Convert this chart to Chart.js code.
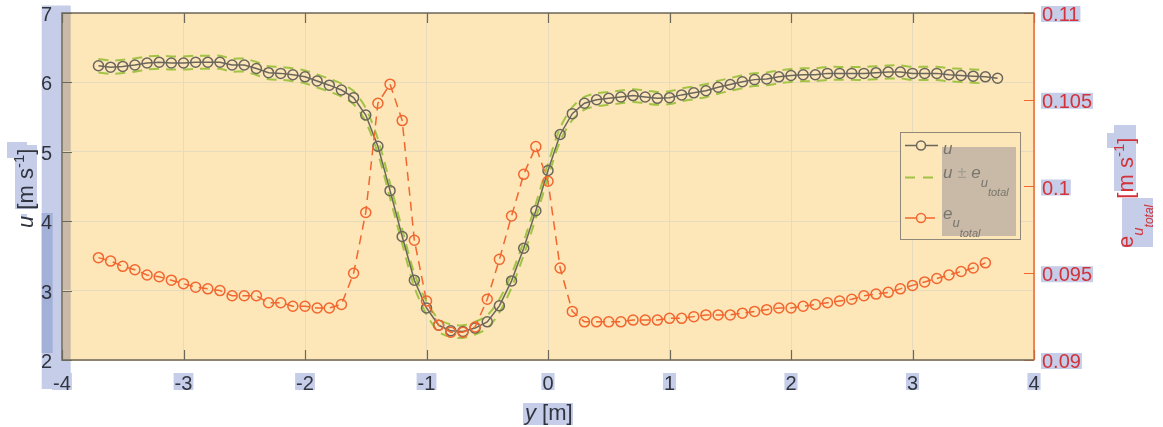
<!DOCTYPE html>
<html>
<head>
<meta charset="utf-8">
<script src="https://cdn.jsdelivr.net/npm/chart.js@4/dist/chart.umd.min.js"></script>
<style>
  html, body { margin: 0; padding: 0; background: #fff; }
  #wrap { width: 1163px; height: 427px; }
</style>
</head>
<body>
<div id="wrap"><canvas id="chart" width="1163" height="427"></canvas></div>
<script>
'use strict';

// lateral position y [m]
let positions=[-3.7,-3.6,-3.5,-3.4,-3.3,-3.2,-3.1,-3.0,-2.9,-2.8,-2.7,-2.6,-2.5,-2.4,-2.3,-2.2,-2.1,-2.0,-1.9,-1.8,
  -1.7,-1.6,-1.5,-1.4,-1.3,-1.2,-1.1,-1.0,-0.9,-0.8,-0.7,-0.6,-0.5,-0.4,-0.3,-0.2,-0.1,0.0,0.1,0.2,
  0.3,0.4,0.5,0.6,0.7,0.8,0.9,1.0,1.1,1.2,1.3,1.4,1.5,1.6,1.7,1.8,1.9,2.0,2.1,2.2,
  2.3,2.4,2.5,2.6,2.7,2.8,2.9,3.0,3.1,3.2,3.3,3.4,3.5,3.6,3.7]

// mean streamwise velocity u [m/s]
let uMean=[6.24,6.22,6.23,6.25,6.28,6.29,6.28,6.28,6.29,6.29,6.29,6.25,6.25,6.20,6.14,6.13,6.11,6.08,6.02,5.96,
  5.89,5.78,5.53,5.08,4.44,3.78,3.15,2.75,2.50,2.42,2.41,2.46,2.55,2.78,3.14,3.61,4.15,4.73,5.25,5.55,
  5.70,5.75,5.77,5.79,5.81,5.79,5.77,5.78,5.82,5.85,5.88,5.93,5.97,6.01,6.04,6.05,6.08,6.10,6.11,6.11,
  6.13,6.13,6.13,6.13,6.14,6.15,6.15,6.13,6.13,6.13,6.11,6.10,6.09,6.08,6.06]

// total uncertainty of u [m/s], no value at the last position
let uError=[0.0959,0.0957,0.0954,0.0952,0.0949,0.0948,0.0946,0.0944,0.0942,0.0941,0.0940,0.0937,0.0937,0.0937,0.0933,0.0933,0.0931,0.0931,0.0930,0.0930,
  0.0932,0.0950,0.0985,0.1048,0.1059,0.1038,0.0969,0.0934,0.0920,0.0916,0.0916,0.0919,0.0935,0.0958,0.0983,0.1007,0.1023,0.1003,0.0953,0.0928,
  0.0922,0.0922,0.0922,0.0922,0.0923,0.0923,0.0923,0.0924,0.0924,0.0925,0.0926,0.0926,0.0926,0.0927,0.0928,0.0929,0.0930,0.0930,0.0931,0.0932,
  0.0933,0.0934,0.0935,0.0937,0.0938,0.0939,0.0941,0.0943,0.0945,0.0947,0.0949,0.0951,0.0953,0.0956]

let yTicks=[-4,-3,-2,-1,0,1,2,3,4]
let uTicks=[2,3,4,5,6,7]
let errTicks=[0.09,0.095,0.1,0.105,0.11]

let grey='#6b665b'
let orange='#f2662f'
let green='#a2c445'
let cream='#fde6b8'
let gridColor='#e8dabd'
let frameColor='#6e6858'
let labelColor='#30343f'
let redLabel='#d2333b'
let hiBlue='#c5cde8'
let hiBlueDark='#a3b1d9'
let hiBrown='#c8baa7'
let fontName='"Liberation Sans", Arial, sans-serif'

let uPoints=positions.map((p,i)=>({x:p,y:uMean[i]}))
let errPoints=uError.map((e,i)=>({x:positions[i],y:e}))
let upperPoints=uError.map((e,i)=>({x:positions[i],y:uMean[i]+e}))
let lowerPoints=uError.map((e,i)=>({x:positions[i],y:uMean[i]-e}))

function font(size,italic)
{
    return (italic?'italic ':'')+size+'px '+fontName
}

// draws a run of text pieces (sub/superscripts via dy), optionally rotated
function richText(ctx,pieces,x,y,angle,color)
{
    ctx.save()
    ctx.translate(x,y)
    ctx.rotate(angle)
    ctx.textAlign='left'
    ctx.textBaseline='alphabetic'
    let cx=0
    for(let p of pieces)
    {
        ctx.font=font(p.size,p.italic)
        ctx.fillStyle=p.color||color
        ctx.fillText(p.text,cx+(p.dx||0),p.dy||0)
        cx+=ctx.measureText(p.text).width+(p.dx||0)
    }
    ctx.restore()
}

function box(ctx,x,y,w,h,color)
{
    ctx.fillStyle=color
    ctx.fillRect(x,y,w,h)
}

let decor={
    id:'decor',
    beforeDraw(chart)
    {
        let ctx=chart.ctx
        let a=chart.chartArea
        ctx.save()
        // highlighted band behind the left tick labels
        box(ctx,41.7,5.5,29,383.5,hiBlue)
        box(ctx,41.7,213,11,140,hiBlueDark)
        box(ctx,a.left,a.top,a.right-a.left,a.bottom-a.top,cream)
        box(ctx,a.left,a.top,8.7,a.bottom-a.top,hiBrown)
        ctx.restore()
    },
    afterDraw(chart)
    {
        let ctx=chart.ctx
        let a=chart.chartArea
        let sx=chart.scales.x
        let sy=chart.scales.y
        let sr=chart.scales.y1
        ctx.save()

        // inward tick marks
        ctx.lineWidth=1.2
        ctx.strokeStyle=frameColor
        ctx.beginPath()
        for(let v of yTicks)
        {
            let px=Math.round(sx.getPixelForValue(v))+0.5
            ctx.moveTo(px,a.top); ctx.lineTo(px,a.top+10)
            ctx.moveTo(px,a.bottom); ctx.lineTo(px,a.bottom-10)
        }
        for(let v of uTicks)
        {
            let py=Math.round(sy.getPixelForValue(v))+0.5
            ctx.moveTo(a.left,py); ctx.lineTo(a.left+10,py)
        }
        ctx.stroke()
        ctx.strokeStyle=orange
        ctx.beginPath()
        for(let v of errTicks)
        {
            let py=Math.round(sr.getPixelForValue(v))+0.5
            ctx.moveTo(a.right,py); ctx.lineTo(a.right-10,py)
        }
        ctx.stroke()

        // frame
        ctx.lineWidth=1.5
        ctx.strokeStyle=frameColor
        ctx.beginPath()
        ctx.moveTo(a.right,a.top); ctx.lineTo(a.left,a.top); ctx.lineTo(a.left,a.bottom); ctx.lineTo(a.right,a.bottom)
        ctx.stroke()
        ctx.strokeStyle=orange
        ctx.beginPath()
        ctx.moveTo(a.right,a.top-0.5); ctx.lineTo(a.right,a.bottom+0.5)
        ctx.stroke()

        // tick labels
        ctx.font=font(20)
        ctx.textBaseline='alphabetic'
        ctx.textAlign='left'
        for(let v of yTicks)
        {
            let t=String(v)
            let w=ctx.measureText(t).width
            let px=sx.getPixelForValue(v)
            box(ctx,px-w/2-1,373,w+2,17,hiBlue)
            ctx.fillStyle=labelColor
            ctx.fillText(t,px-w/2,390)
        }
        for(let v of uTicks)
        {
            let t=String(v)
            let w=ctx.measureText(t).width
            ctx.fillStyle=labelColor
            ctx.fillText(t,52-w,sy.getPixelForValue(v)+8)
        }
        for(let v of errTicks)
        {
            let t=String(v)
            let w=ctx.measureText(t).width
            let py=sr.getPixelForValue(v)
            box(ctx,1041,py-7,w+2,16,hiBlue)
            ctx.fillStyle=redLabel
            ctx.fillText(t,1042,py+8)
        }

        // axis titles
        box(ctx,523,403,50,22,hiBlue)
        richText(ctx,[{text:'y',size:22,italic:true},{text:' [m]',size:22}],525,420,0,labelColor)

        box(ctx,15,145,22,64,hiBlue)
        box(ctx,7,142,20,16,hiBlue)
        box(ctx,21,214,6,5,hiBlue)
        richText(ctx,[{text:'u',size:22,italic:true},{text:' [m s',size:22},{text:'-1',size:15,dy:-9},{text:']',size:22}],
            33,228,-Math.PI/2,labelColor)

        box(ctx,1114,125,22,66,hiBlue)
        box(ctx,1107,133,10,15,hiBlue)
        box(ctx,1122,198,31,49,hiBlue)
        richText(ctx,[{text:'e',size:22},{text:'u',size:15,italic:true,dy:10},{text:'total',size:12,italic:true,dy:20},
            {text:' [m s',size:22},{text:'-1',size:15,dy:-9},{text:']',size:22}],
            1133,248,-Math.PI/2,redLabel)

        // legend
        box(ctx,900.5,132,120,107,cream)
        ctx.lineWidth=1
        ctx.strokeStyle='#8f8878'
        ctx.strokeRect(900.5,132.5,120,107)
        box(ctx,942,147,74,89,hiBrown)

        ctx.lineWidth=1.5
        ctx.strokeStyle=grey
        ctx.beginPath(); ctx.moveTo(905,145.5); ctx.lineTo(938,145.5); ctx.stroke()
        ctx.fillStyle=cream
        ctx.beginPath(); ctx.arc(921,145.5,4.5,0,Math.PI*2); ctx.fill(); ctx.stroke()

        ctx.lineWidth=2
        ctx.strokeStyle=green
        ctx.setLineDash([10,8])
        ctx.beginPath(); ctx.moveTo(905,177.5); ctx.lineTo(938,177.5); ctx.stroke()
        ctx.setLineDash([])

        ctx.lineWidth=1.5
        ctx.strokeStyle=orange
        ctx.beginPath(); ctx.moveTo(905,218); ctx.lineTo(935,218); ctx.stroke()
        ctx.fillStyle=cream
        ctx.beginPath(); ctx.arc(921,218,4.5,0,Math.PI*2); ctx.fill(); ctx.stroke()

        let lc='#7a756c'
        richText(ctx,[{text:'u',size:17,italic:true}],943,154,0,lc)
        richText(ctx,[{text:'u',size:17,italic:true},{text:' \u00b1 ',size:17,color:'#a39d92'},{text:'e',size:17,italic:true},
            {text:'u',size:13,italic:true,dy:9},{text:'total',size:11,italic:true,dy:18}],943,178,0,lc)
        richText(ctx,[{text:'e',size:17,italic:true},{text:'u',size:13,italic:true,dy:8},{text:'total',size:11,italic:true,dy:18}],943,219,0,lc)

        ctx.restore()
    }
}

let canvas=document.getElementById('chart')
let chart=new Chart(canvas.getContext('2d'),{
    type:'line',
    data:{
        datasets:[
            {
                label:'e_u_total',
                data:errPoints,
                yAxisID:'y1',
                borderColor:orange,
                borderWidth:1.5,
                borderDash:[9,6],
                pointRadius:5,
                pointBorderWidth:1.5,
                pointBorderColor:orange,
                pointBackgroundColor:'rgba(0,0,0,0)',
                fill:false,
                tension:0
            },
            {
                label:'u',
                data:uPoints,
                yAxisID:'y',
                borderColor:grey,
                borderWidth:1.5,
                pointRadius:5,
                pointBorderWidth:1.5,
                pointBorderColor:grey,
                pointBackgroundColor:'rgba(0,0,0,0)',
                fill:false,
                tension:0
            },
            {
                label:'u + e',
                data:upperPoints,
                yAxisID:'y',
                borderColor:green,
                borderWidth:2,
                borderDash:[10,7],
                pointRadius:0,
                fill:false,
                tension:0.3
            },
            {
                label:'u - e',
                data:lowerPoints,
                yAxisID:'y',
                borderColor:green,
                borderWidth:2,
                borderDash:[10,7],
                pointRadius:0,
                fill:false,
                tension:0.3
            }
        ]
    },
    options:{
        responsive:false,
        animation:false,
        devicePixelRatio:1,
        layout:{padding:{top:13,left:0,right:0,bottom:0}},
        plugins:{legend:{display:false},tooltip:{enabled:false}},
        scales:{
            x:{
                type:'linear',
                min:-4,
                max:4,
                afterBuildTicks:s=>{s.ticks=yTicks.map(v=>({value:v}))},
                afterFit:s=>{s.height=67},
                ticks:{display:false},
                grid:{color:gridColor,drawTicks:false},
                border:{display:false}
            },
            y:{
                position:'left',
                min:2,
                max:7,
                afterBuildTicks:s=>{s.ticks=uTicks.map(v=>({value:v}))},
                afterFit:s=>{s.width=62},
                ticks:{display:false},
                grid:{color:gridColor,drawTicks:false},
                border:{display:false}
            },
            y1:{
                position:'right',
                min:0.09,
                max:0.11,
                afterBuildTicks:s=>{s.ticks=errTicks.map(v=>({value:v}))},
                afterFit:s=>{s.width=129},
                ticks:{display:false},
                grid:{display:false,drawTicks:false},
                border:{display:false}
            }
        }
    },
    plugins:[decor]
})
</script>
</body>
</html>
